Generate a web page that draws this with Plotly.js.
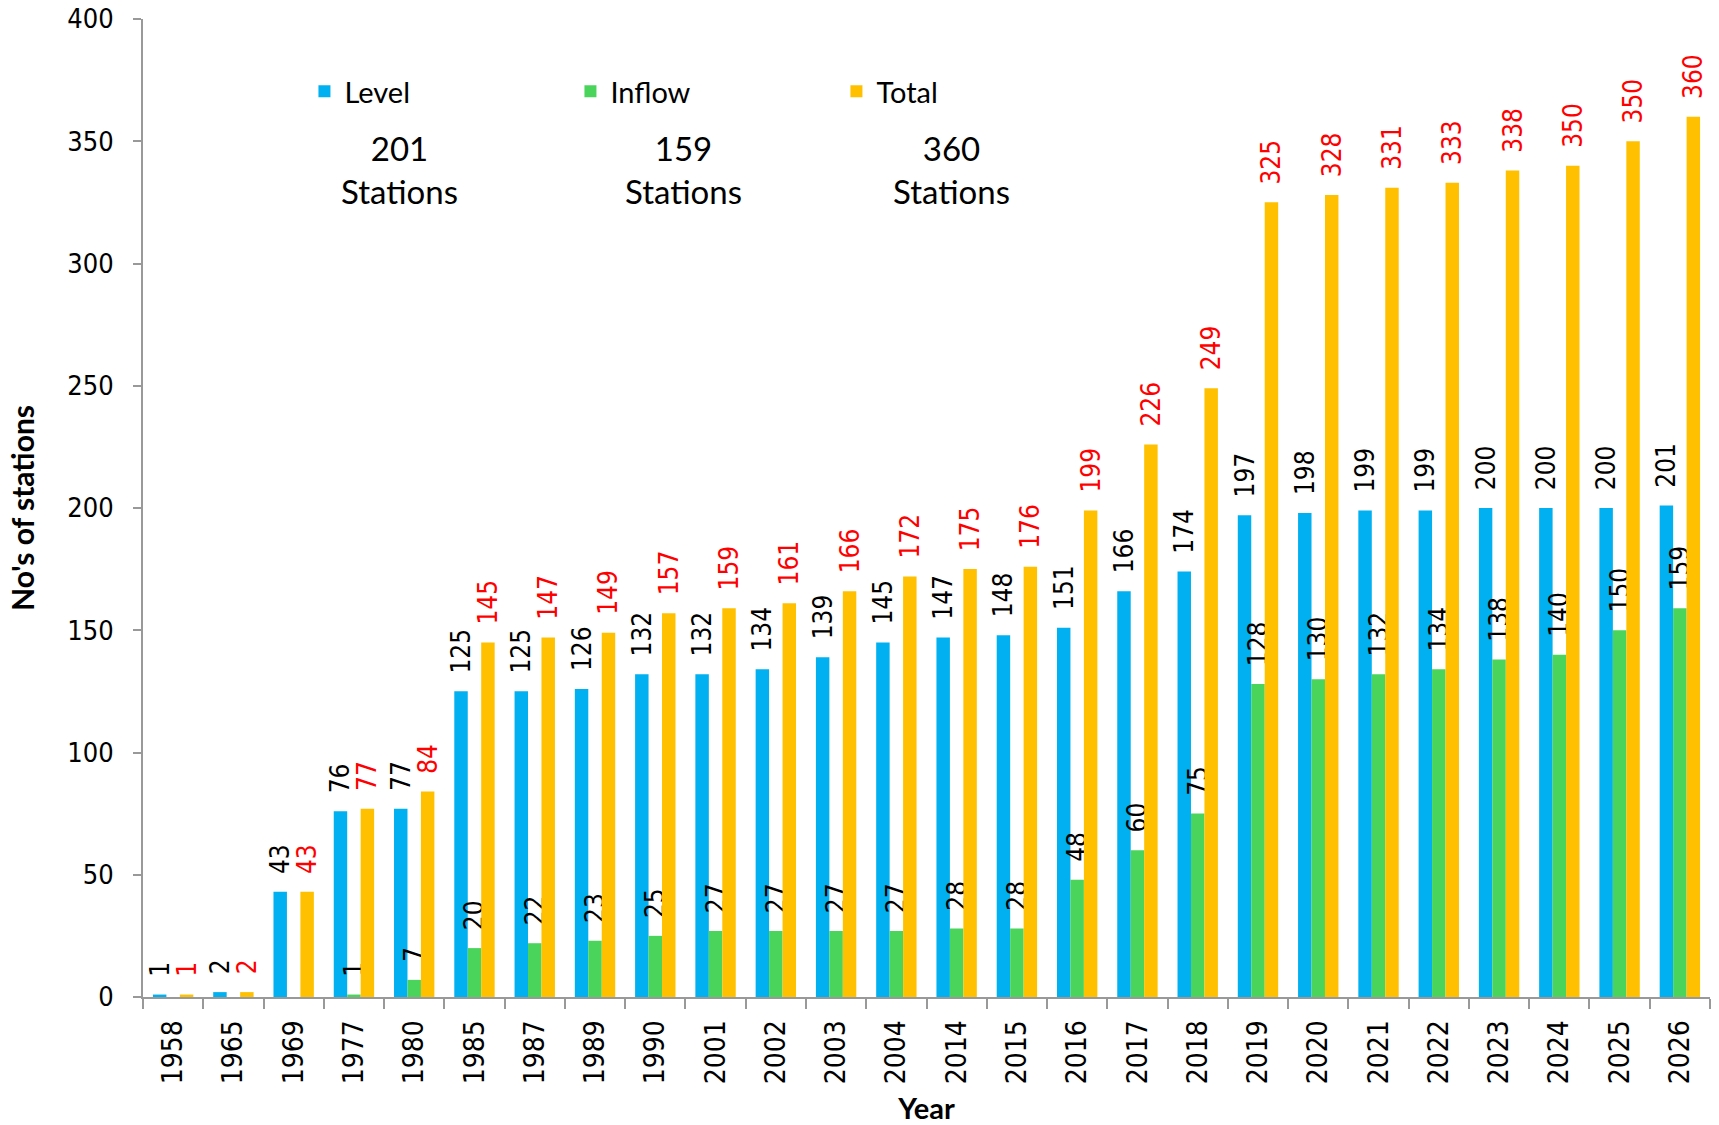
<!DOCTYPE html>
<html>
<head>
<meta charset="utf-8">
<script src="https://cdn.plot.ly/plotly-3.0.1.min.js"></script>
<style>html,body{margin:0;padding:0;background:#fff;}#chart{width:1719px;height:1125px;}</style>
</head>
<body>
<div id="chart"></div>
<script>
// ---- data ----
const years = ["1958","1965","1969","1977","1980","1985","1987","1989","1990","2001","2002","2003","2004","2014","2015","2016","2017","2018","2019","2020","2021","2022","2023","2024","2025","2026"];
const levelStations  = [1,2,43,76,77,125,125,126,132,132,134,139,145,147,148,151,166,174,197,198,199,199,200,200,200,201];
const inflowStations = [0,0,0,1,7,20,22,23,25,27,27,27,27,28,28,48,60,75,128,130,132,134,138,140,150,159];
const totalStations  = [1,2,43,77,84,145,147,149,157,159,161,166,172,175,176,199,226,249,325,328,331,333,338,340,350,360];
const totalLabels    = ["1","2","43","77","84","145","147","149","157","159","161","166","172","175","176","199","226","249","325","328","331","333","338","350","350","360"];
const seriesNames = ["Level","Inflow","Total"];
const summaryCounts = ["201","159","360"];
const summaryUnit = "Stations";
const xTitle = "Year";
const yTitle = "No's of stations";

// ---- styling ----
const colors = ["#00B0F0","#4AD45C","#FFC000"];
const pad = "\u00A0\u00A0";
const numFont = "DejaVu Sans Condensed, DejaVu Sans";
const labelFont = {family:numFont, size:26};

const traces = [
  {type:"bar", name:seriesNames[0], x:years, y:levelStations, marker:{color:colors[0]},
   text: levelStations.map(v => pad + v), textposition:"outside", textangle:-90,
   textfont:Object.assign({color:"#000"}, labelFont), cliponaxis:false, constraintext:"none", hoverinfo:"x+y"},
  {type:"bar", name:seriesNames[1], x:years, y:inflowStations, marker:{color:colors[1]},
   text: inflowStations.map(v => v > 0 ? pad + v : ""), textposition:"outside", textangle:-90,
   textfont:Object.assign({color:"#000"}, labelFont), cliponaxis:false, constraintext:"none", hoverinfo:"x+y"},
  {type:"bar", name:seriesNames[2], x:years, y:totalStations, marker:{color:colors[2]},
   text: totalLabels.map(v => pad + v), textposition:"outside", textangle:-90,
   textfont:Object.assign({color:"#FF0000"}, labelFont), cliponaxis:false, constraintext:"none", hoverinfo:"x+y"}
];

const L = 142.5, R = 1710, T = 18.6, B = 996.6;
const annX = [399, 683, 951.6];
const annotations = summaryCounts.map((c,i) => ({
  xref:"paper", yref:"paper",
  x:(annX[i]-L)/(R-L), y:(B-169)/(B-T),
  xanchor:"center", yanchor:"middle",
  text: c + "<br>" + summaryUnit, showarrow:false,
  font:{family:"Lato", size:33, color:"#000"}
}));

const layout = {
  width:1719, height:1125,
  paper_bgcolor:"#fff", plot_bgcolor:"#fff",
  margin:{l:L, r:1719-R, t:T, b:1125-B, pad:0},
  barmode:"group", bargap:0.33, bargroupgap:0,
  showlegend:true,
  legend:{orientation:"h", x:(304-L)/(R-L), y:(B-91)/(B-T), xanchor:"left", yanchor:"middle",
          entrywidth:221, entrywidthmode:"pixels", itemwidth:30,
          font:{family:"Lato", size:29, color:"#000"}, bgcolor:"rgba(0,0,0,0)"},
  xaxis:{type:"category", showline:true, linecolor:"#999", linewidth:2,
         ticks:"outside", tickson:"boundaries", ticklen:10, tickwidth:2, tickcolor:"#999",
         tickangle:-90, tickfont:{family:numFont, size:28, color:"#000"},
         ticklabelstandoff:10, showgrid:false, zeroline:false,
         title:{text:xTitle, font:{family:"Lato", size:29, color:"#000", weight:"bold"}, standoff:16}},
  yaxis:{range:[0,400], dtick:50, showline:true, linecolor:"#999", linewidth:2,
         ticks:"outside", ticklen:8, tickwidth:2, tickcolor:"#999",
         tickfont:{family:numFont, size:27, color:"#000"}, ticklabelstandoff:14,
         showgrid:false, zeroline:false,
         title:{text:yTitle, font:{family:"Lato", size:30, color:"#000", weight:"bold"}, standoff:24}},
  annotations:annotations
};

Plotly.newPlot("chart", traces, layout, {displayModeBar:false, staticPlot:true});
</script>
</body>
</html>
